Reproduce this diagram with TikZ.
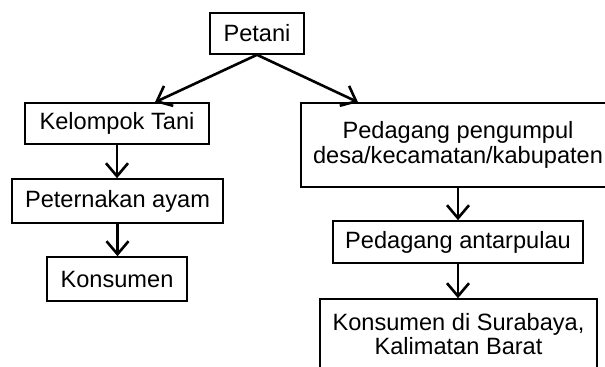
\documentclass[tikz,border=0pt]{standalone}
\usepackage{fontspec}
\setmainfont{Liberation Sans}
\usetikzlibrary{arrows.meta,calc}

\begin{document}
\begin{tikzpicture}[x=0.5pt,y=-0.5pt,
  kotak/.style={draw,line width=0.8pt,inner sep=0pt,align=center,
    font=\fontsize{11.8}{12.2}\selectfont},
  panah/.style={-{Straight Barb[length=6.5pt,width=11pt]},line width=1.3pt}]
  \useasboundingbox (0,0) rectangle (605,366);
  \clip (0,0) rectangle (605,366);
  \foreach \n/\x/\y/\w/\h/\lab in {
     petani/257/33.5/94/41/{Petani},
     kt/117/123.5/184/41/{Kelompok Tani},
     pa/117.5/201/211/44/{Peternakan ayam},
     kons/117/279/140/44/{Konsumen},
     pp/458/145/314/84/{Pedagang pengumpul\\desa/kecamatan/kabupaten},
     pap/458/242/250/42/{Pedagang antarpulau},
     ks/458.5/334/277/70/{Konsumen di Surabaya,\\Kalimatan Barat}}
  { \node[kotak,minimum width=\w*0.5pt,minimum height=\h*0.5pt] (\n) at (\x,\y) {\lab}; }
  \coordinate (ktin) at ($(kt.north)+(38,0)$);
  \coordinate (ppin) at ($(pp.north)+(-100,0)$);
  \draw[panah] (petani.south) -- (ktin);
  \draw[panah] (petani.south) -- (ppin);
  \draw[panah] (kt.south) -- (kt.south |- pa.north);
  \draw[panah] (pa.south) -- (pa.south |- kons.north);
  \draw[panah] (pp.south) -- (pp.south |- pap.north);
  \draw[panah] (pap.south) -- (pap.south |- ks.north);
\end{tikzpicture}
\end{document}
